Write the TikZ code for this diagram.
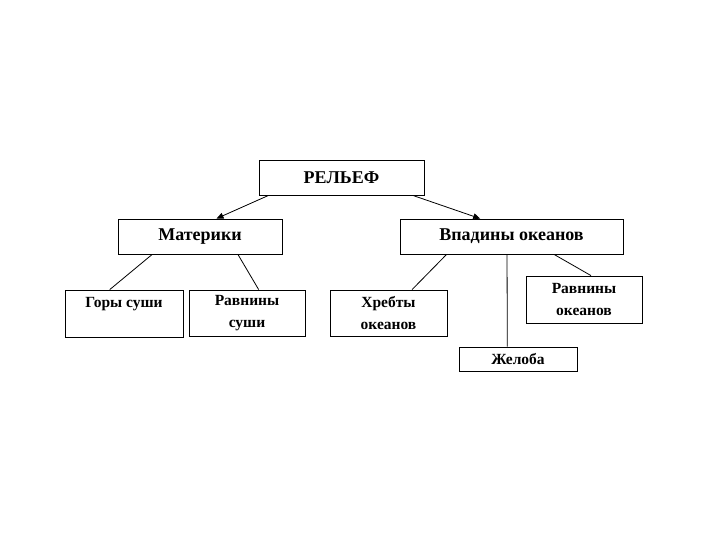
\documentclass[tikz,border=0pt]{standalone}
\usepackage{fontspec}
\setmainfont{Liberation Serif}
\usepackage{tikz}
\usetikzlibrary{calc,arrows.meta}
\tikzset{
  box/.style={draw=black, line width=0.8pt, inner sep=0pt, align=center, font=\bfseries\fontsize{18}{20}\selectfont},
  boxs/.style={box, font=\bfseries\fontsize{15.5}{22}\selectfont},
  link/.style={draw=black, line width=0.8pt},
  arr/.style={link, -{Triangle[length=7pt,width=6pt]}}
}
\begin{document}
\begin{tikzpicture}[x=1pt,y=-1pt]
  \useasboundingbox (0,0) rectangle (720,540);
  % top level
  \node[box, minimum width=165pt, minimum height=35pt] (rel) at (341.5,177.5) {РЕЛЬЕФ};
  \node[box, minimum width=164pt, minimum height=35pt] (mat) at (200,236.5) {Материки};
  \node[box, minimum width=223pt, minimum height=35pt] (vpad) at (511.5,236.5) {Впадины океанов};
  % land
  \node[boxs, minimum width=118pt, minimum height=47pt] (gory) at (124,313.5) {Горы суши\\\mbox{}};
  \node[boxs, minimum width=116pt, minimum height=46pt] (ravs) at (247,313) {Равнины\\суши};
  % ocean
  \node[boxs, minimum width=117pt, minimum height=46pt] (hreb) at (388.5,313) {Хребты\\океанов};
  \node[boxs, minimum width=116pt, minimum height=47pt] (ravo) at (584,299.5) {Равнины\\океанов};
  \node[boxs, minimum width=118pt, minimum height=24pt] (zhel) at (518,359) {Желоба};
  % arrows
  \draw[arr] ($(rel.south west)!0.06!(rel.south east)$) -- ($(mat.north west)!0.60!(mat.north east)$);
  \draw[arr] ($(rel.south west)!0.93!(rel.south east)$) -- ($(vpad.north west)!0.36!(vpad.north east)$);
  % lines
  \draw[link] ($(mat.south west)!0.21!(mat.south east)$) -- ($(gory.north west)!0.38!(gory.north east)$);
  \draw[link] ($(mat.south west)!0.73!(mat.south east)$) -- ($(ravs.north west)!0.60!(ravs.north east)$);
  \draw[link] ($(vpad.south west)!0.21!(vpad.south east)$) -- ($(hreb.north west)!0.70!(hreb.north east)$);
  \draw[link] ($(vpad.south west)!0.48!(vpad.south east)$) -- ($(zhel.north west)!0.41!(zhel.north east)$);
  \draw[link] ($(vpad.south west)!0.69!(vpad.south east)$) -- ($(ravo.north west)!0.56!(ravo.north east)$);
\end{tikzpicture}
\end{document}
